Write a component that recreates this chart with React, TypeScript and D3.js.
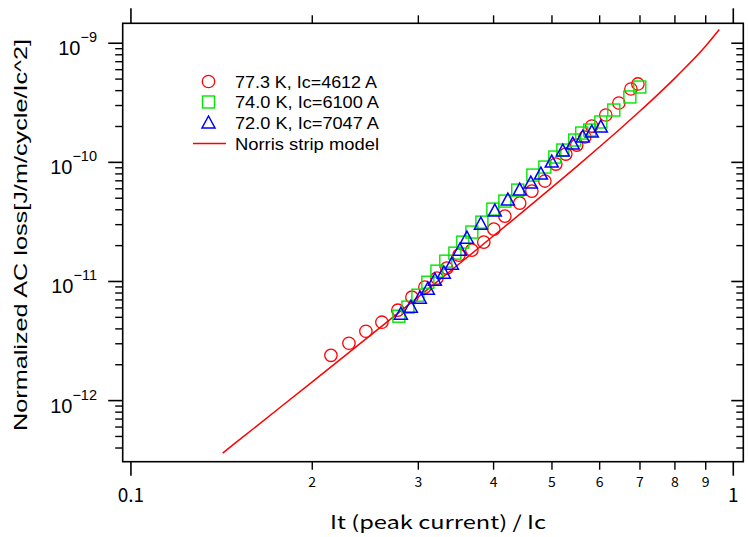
import React from "react";
import * as d3 from "d3";

// ---- data ----
const xMajorTicks = [0.1, 1];
const xMajorLabels = ["0.1", "1"];
const xMinorTicks = [0.2, 0.3, 0.4, 0.5, 0.6, 0.7, 0.8, 0.9];
const xMinorLabels = ["2", "3", "4", "5", "6", "7", "8", "9"];
const yMajorTicks = [1e-12, 1e-11, 1e-10, 1e-9];
const yMajorExp = ["\u221212", "\u221211", "\u221210", "\u22129"];

const legendLabels = [
  "77.3 K, Ic=4612 A",
  "74.0 K, Ic=6100 A",
  "72.0 K, Ic=7047 A",
  "Norris strip model",
];

const f773 = [0.2148, 0.2301, 0.2455, 0.261, 0.2774, 0.2927, 0.3076, 0.3221, 0.3345, 0.3503, 0.3681, 0.3853, 0.4004, 0.4176, 0.442, 0.463, 0.4866, 0.5074, 0.5272, 0.5497, 0.5669, 0.5822, 0.6142, 0.6457, 0.6761, 0.6944];
const q773 = [2.4e-12, 3.03e-12, 3.82e-12, 4.55e-12, 5.74e-12, 7.38e-12, 8.96e-12, 1.066e-11, 1.294e-11, 1.663e-11, 1.832e-11, 2.14e-11, 2.75e-11, 3.54e-11, 4.55e-11, 5.74e-11, 6.97e-11, 9.68e-11, 1.174e-10, 1.397e-10, 1.632e-10, 2.018e-10, 2.497e-10, 3.15e-10, 4.13e-10, 4.55e-10];

const f740 = [0.2785, 0.2883, 0.2995, 0.3111, 0.3221, 0.3332, 0.345, 0.3556, 0.3681, 0.3825, 0.3989, 0.4176, 0.4387, 0.4648, 0.4866, 0.5055, 0.5212, 0.5455, 0.5603, 0.5777, 0.6027, 0.6333, 0.6734, 0.6995];
const q740 = [5.11e-12, 6.09e-12, 7.67e-12, 9.86e-12, 1.221e-11, 1.481e-11, 1.729e-11, 2.14e-11, 2.6e-11, 3.15e-11, 4.05e-11, 4.73e-11, 5.85e-11, 7.82e-11, 9.13e-11, 1.108e-10, 1.269e-10, 1.54e-10, 1.763e-10, 1.868e-10, 2.182e-10, 2.75e-10, 3.54e-10, 4.29e-10];

const f720 = [0.2806, 0.2915, 0.3017, 0.3111, 0.3196, 0.3307, 0.341, 0.3517, 0.3612, 0.381, 0.4019, 0.4224, 0.442, 0.4612, 0.4793, 0.4996, 0.5212, 0.5414, 0.5626, 0.5822, 0.6027];
const q720 = [5.31e-12, 6.08e-12, 7.24e-12, 8.62e-12, 1.025e-11, 1.174e-11, 1.397e-11, 1.832e-11, 2.31e-11, 3.03e-11, 3.9e-11, 4.82e-11, 5.85e-11, 6.7e-11, 7.97e-11, 1.006e-10, 1.245e-10, 1.425e-10, 1.632e-10, 1.797e-10, 1.979e-10];

const norrisF = [0.142, 0.15, 0.2, 0.25, 0.3, 0.35, 0.4, 0.45, 0.5, 0.55, 0.6, 0.65, 0.7, 0.75, 0.8, 0.85, 0.9, 0.948];
const norrisQ = [3.62e-13, 4.52e-13, 1.436e-12, 3.54e-12, 7.43e-12, 1.395e-11, 2.42e-11, 3.95e-11, 6.16e-11, 9.26e-11, 1.351e-10, 1.926e-10, 2.696e-10, 3.723e-10, 5.095e-10, 6.944e-10, 9.5e-10, 1.306e-9];

// ---- layout ----
const W = 748;
const H = 537;
const L = 122.7, R = 743.3, T = 23.3, B = 461.7;
const RED = "#ff0000";
const GREEN = "#00e600";
const BLUE = "#0000ff";
const SANS = "'Liberation Sans', Arial, sans-serif";
const GOTHIC = "'Noto Sans CJK JP', 'Liberation Sans', sans-serif";
const legendWidths = [142, 144, 144, 144];

const x = d3.scaleLog().domain([0.0969, 1.039]).range([L, R]);
const y = d3.scaleLog().domain([3.07e-13, 1.47e-9]).range([B, T]);

function yMinorTicks(): number[] {
  const out: number[] = [];
  for (let e = -13; e <= -9; e++) {
    for (let m = 2; m <= 9; m++) {
      const v = m * Math.pow(10, e);
      if (v > y.domain()[0] && v < y.domain()[1]) out.push(v);
    }
  }
  return out;
}

const Circle = ({ cx, cy }: { cx: number; cy: number }) => (
  <circle cx={cx} cy={cy} r={6.2} fill="none" stroke={RED} strokeWidth={1.3} />
);
const Square = ({ cx, cy }: { cx: number; cy: number }) => (
  <rect x={cx - 6} y={cy - 6} width={12} height={12} fill="none" stroke={GREEN} strokeWidth={1.4} />
);
const Tri = ({ cx, cy }: { cx: number; cy: number }) => (
  <path d={`M${cx},${cy - 7}L${cx + 6.5},${cy + 5}L${cx - 6.5},${cy + 5}Z`} fill="none" stroke={BLUE} strokeWidth={1.5} />
);

export default function App() {
  const line = d3
    .line<number>()
    .x((_, i) => x(norrisF[i]))
    .y((d) => y(d))
    .curve(d3.curveMonotoneX);
  const minorY = yMinorTicks();
  return (
    <svg width={W} height={H} style={{ position: "absolute", left: 0, top: 0, background: "#fff" }}>
      <rect x={0} y={0} width={W} height={H} fill="#fff" />
      {/* Norris line */}
      <path d={line(norrisQ) || ""} fill="none" stroke={RED} strokeWidth={1.5} />
      {/* data */}
      {f773.map((f, i) => (
        <Circle key={"r" + i} cx={x(f)} cy={y(q773[i])} />
      ))}
      {f740.map((f, i) => (
        <Square key={"g" + i} cx={x(f)} cy={y(q740[i])} />
      ))}
      {f720.map((f, i) => (
        <Tri key={"b" + i} cx={x(f)} cy={y(q720[i])} />
      ))}
      {/* frame */}
      <rect x={L} y={T} width={R - L} height={B - T} fill="none" stroke="#000" strokeWidth={1.6} />
      {/* x ticks bottom & top */}
      {xMajorTicks.map((v, i) => (
        <g key={"xM" + i}>
          <line x1={x(v)} x2={x(v)} y1={B} y2={B + 14} stroke="#000" strokeWidth={1.6} />
          <line x1={x(v)} x2={x(v)} y1={T} y2={T - 15} stroke="#000" strokeWidth={1.6} />
          <text x={x(v)} y={B + 40} textAnchor="middle" fontFamily={GOTHIC} fontSize={19}>
            {xMajorLabels[i]}
          </text>
        </g>
      ))}
      {xMinorTicks.map((v, i) => (
        <g key={"xm" + i}>
          <line x1={x(v)} x2={x(v)} y1={B} y2={B + 8} stroke="#000" strokeWidth={1.4} />
          <line x1={x(v)} x2={x(v)} y1={T} y2={T - 8} stroke="#000" strokeWidth={1.4} />
          <text x={x(v)} y={B + 25} textAnchor="middle" fontFamily={GOTHIC} fontSize={14}>
            {xMinorLabels[i]}
          </text>
        </g>
      ))}
      {/* y ticks */}
      {yMajorTicks.map((v, i) => (
        <g key={"yM" + i}>
          <line x1={L} x2={L - 14.5} y1={y(v)} y2={y(v)} stroke="#000" strokeWidth={1.6} />
          <line x1={R} x2={R - 12} y1={y(v)} y2={y(v)} stroke="#000" strokeWidth={1.6} />
          <text x={97} y={y(v) + 12} textAnchor="end" fontFamily={SANS} fontSize={20}>
            <tspan>10</tspan>
            <tspan fontSize={14.5} dy={-13}>
              {yMajorExp[i]}
            </tspan>
          </text>
        </g>
      ))}
      {minorY.map((v, i) => (
        <g key={"ym" + i}>
          <line x1={L} x2={L - 7.5} y1={y(v)} y2={y(v)} stroke="#000" strokeWidth={1.4} />
          <line x1={R} x2={R - 7} y1={y(v)} y2={y(v)} stroke="#000" strokeWidth={1.4} />
        </g>
      ))}
      {/* axis titles */}
      <text
        x={438}
        y={529}
        textAnchor="middle"
        fontFamily={GOTHIC}
        fontSize={18}
        textLength={216}
        lengthAdjust="spacingAndGlyphs"
      >
        It (peak current) / Ic
      </text>
      <text
        transform={`translate(27,235) rotate(-90)`}
        textAnchor="middle"
        fontFamily={SANS}
        fontSize={18.5}
        textLength={392}
        lengthAdjust="spacingAndGlyphs"
      >
        Normalized AC loss[J/m/cycle/Ic^2]
      </text>
      {/* legend */}
      <g>
        <Circle cx={208.5} cy={81.5} />
        <Square cx={208.5} cy={102} />
        <Tri cx={208.5} cy={123} />
        <line x1={193} x2={226} y1={143.5} y2={143.5} stroke={RED} strokeWidth={1.5} />
        {legendLabels.map((t, i) => (
          <text
            key={"lg" + i}
            x={235}
            y={81.5 + i * 20.7 + 6}
            fontFamily={SANS}
            fontSize={16.5}
            textLength={legendWidths[i]}
            lengthAdjust="spacingAndGlyphs"
          >
            {t}
          </text>
        ))}
      </g>
    </svg>
  );
}
